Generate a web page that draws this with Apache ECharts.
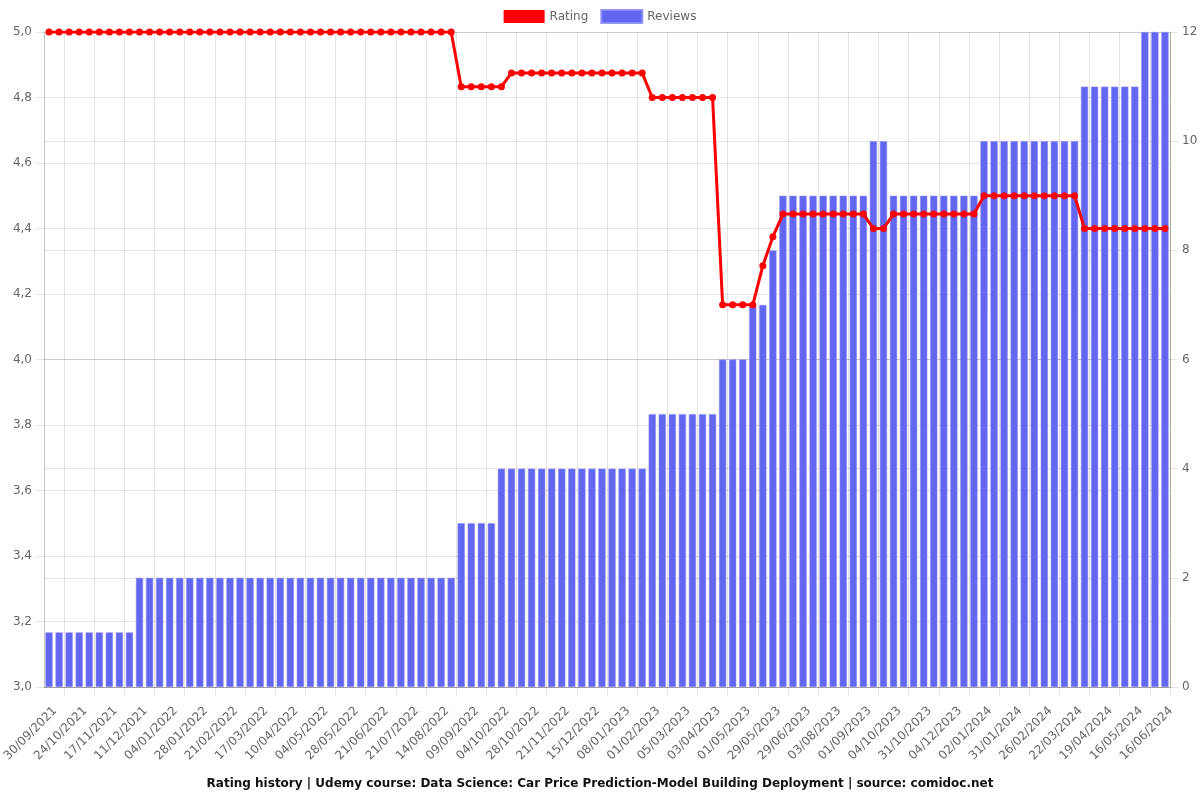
<!DOCTYPE html>
<html>
<head>
<meta charset="utf-8">
<script src="https://cdn.jsdelivr.net/npm/echarts@6/dist/echarts.min.js"></script>
<style>
html,body{margin:0;padding:0;background:#fff;}
#chart{width:1200px;height:800px;}
</style>
</head>
<body>
<div id="chart"></div>
<script>
const categories = [
  "30/09/2021","08/10/2021","16/10/2021","24/10/2021","01/11/2021","09/11/2021","17/11/2021","25/11/2021","03/12/2021","11/12/2021",
  "19/12/2021","27/12/2021","04/01/2022","12/01/2022","20/01/2022","28/01/2022","05/02/2022","13/02/2022","21/02/2022","01/03/2022",
  "09/03/2022","17/03/2022","25/03/2022","02/04/2022","10/04/2022","18/04/2022","26/04/2022","04/05/2022","12/05/2022","20/05/2022",
  "28/05/2022","05/06/2022","13/06/2022","21/06/2022","01/07/2022","11/07/2022","21/07/2022","29/07/2022","06/08/2022","14/08/2022",
  "23/08/2022","01/09/2022","09/09/2022","17/09/2022","26/09/2022","04/10/2022","12/10/2022","20/10/2022","28/10/2022","05/11/2022",
  "13/11/2022","21/11/2022","29/11/2022","07/12/2022","15/12/2022","23/12/2022","31/12/2022","08/01/2023","16/01/2023","24/01/2023",
  "01/02/2023","12/02/2023","22/02/2023","05/03/2023","15/03/2023","25/03/2023","03/04/2023","12/04/2023","21/04/2023","01/05/2023",
  "10/05/2023","19/05/2023","29/05/2023","08/06/2023","19/06/2023","29/06/2023","10/07/2023","22/07/2023","03/08/2023","12/08/2023",
  "22/08/2023","01/09/2023","12/09/2023","23/09/2023","04/10/2023","13/10/2023","22/10/2023","31/10/2023","11/11/2023","22/11/2023",
  "04/12/2023","13/12/2023","23/12/2023","02/01/2024","11/01/2024","21/01/2024","31/01/2024","08/02/2024","17/02/2024","26/02/2024",
  "04/03/2024","13/03/2024","22/03/2024","31/03/2024","10/04/2024","19/04/2024","28/04/2024","07/05/2024","16/05/2024","26/05/2024",
  "05/06/2024","16/06/2024"
];

const reviews = [
  1,1,1,1,1,1,1,1,1,
  2,2,2,2,2,2,2,2,2,2,2,2,2,2,2,2,2,2,2,2,2,2,2,2,2,2,2,2,2,2,2,2,
  3,3,3,3,
  4,4,4,4,4,4,4,4,4,4,4,4,4,4,4,
  5,5,5,5,5,5,5,
  6,6,6,
  7,7,
  8,
  9,9,9,9,9,9,9,9,9,
  10,10,
  9,9,9,9,9,9,9,9,9,
  10,10,10,10,10,10,10,10,10,10,
  11,11,11,11,11,11,
  12,12,12
];

const ratings = [
  5,5,5,5,5,5,5,5,5,5,5,5,5,5,5,5,5,5,5,5,5,5,5,5,5,5,5,5,5,5,5,5,5,5,5,5,5,5,5,5,5,
  4.833,4.833,4.833,4.833,4.833,
  4.875,4.875,4.875,4.875,4.875,4.875,4.875,4.875,4.875,4.875,4.875,4.875,4.875,4.875,
  4.8,4.8,4.8,4.8,4.8,4.8,4.8,
  4.167,4.167,4.167,4.167,
  4.286,
  4.375,
  4.444,4.444,4.444,4.444,4.444,4.444,4.444,4.444,4.444,
  4.4,4.4,
  4.444,4.444,4.444,4.444,4.444,4.444,4.444,4.444,4.444,
  4.5,4.5,4.5,4.5,4.5,4.5,4.5,4.5,4.5,4.5,
  4.4,4.4,4.4,4.4,4.4,4.4,4.4,4.4,4.4
];

const leftTicks = { min: 3, max: 5, interval: 0.2 };
const rightTicks = { min: 0, max: 12, interval: 2 };
const titleText = "Rating history | Udemy course: Data Science: Car Price Prediction-Model Building Deployment | source: comidoc.net";

const gridColor = 'rgba(0,0,0,0.1)';
const axisColor = 'rgba(0,0,0,0.22)';
const FONT = 'DejaVu Sans';

const chart = echarts.init(document.getElementById('chart'), null, { renderer: 'canvas' });
const option = {
  animation: false,
  backgroundColor: '#fff',
  textStyle: { fontFamily: FONT },
  title: {
    text: titleText,
    left: 'center',
    top: 773,
    textStyle: { fontFamily: FONT, fontSize: 12, fontWeight: 'bold', color: '#111' }
  },
  legend: {
    top: 4,
    left: 'center',
    icon: 'rect',
    itemWidth: 41,
    itemHeight: 13,
    itemGap: 12,
    textStyle: { fontFamily: FONT, fontSize: 12, color: '#666' },
    data: ['Rating', 'Reviews']
  },
  grid: { left: 44, right: 30, top: 32, bottom: 113, containLabel: false, outerBoundsMode: 'none' },
  xAxis: {
    type: 'category',
    data: categories,
    boundaryGap: true,
    axisLine: { show: true, lineStyle: { color: axisColor } },
    axisTick: { show: true, length: 8, interval: function (i) { return i % 3 === 2; }, lineStyle: { color: gridColor } },
    splitLine: { show: true, interval: function (i) { return i % 3 === 2; }, lineStyle: { color: gridColor } },
    axisLabel: {
      interval: 2, rotate: 45, fontFamily: FONT, fontSize: 12, color: '#666',
      margin: 16, verticalAlign: 'top', lineHeight: 17
    }
  },
  yAxis: [
    {
      type: 'value',
      position: 'left',
      min: leftTicks.min, max: leftTicks.max, interval: leftTicks.interval,
      axisLine: { show: true, lineStyle: { color: axisColor } },
      axisTick: { show: true, length: 8, lineStyle: { color: gridColor } },
      splitLine: { show: true, lineStyle: { color: gridColor } },
      axisLabel: {
        fontFamily: FONT, fontSize: 12, color: '#666', margin: 12,
        formatter: function (v) { return v.toFixed(1).replace('.', ','); }
      }
    },
    {
      type: 'value',
      position: 'right',
      min: rightTicks.min, max: rightTicks.max, interval: rightTicks.interval,
      axisLine: { show: true, lineStyle: { color: axisColor } },
      axisTick: { show: true, length: 8, lineStyle: { color: gridColor } },
      splitLine: { show: true, lineStyle: { color: gridColor } },
      axisLabel: { fontFamily: FONT, fontSize: 12, color: '#666', margin: 12 }
    }
  ],
  series: [
    {
      name: 'Rating',
      type: 'line',
      data: ratings,
      yAxisIndex: 0,
      z: 5,
      color: '#ff0000',
      symbol: 'circle',
      symbolSize: 7,
      showSymbol: true,
      showAllSymbol: true,
      lineStyle: { width: 3, color: '#ff0000' },
      itemStyle: { color: '#ff0000' }
    },
    {
      name: 'Reviews',
      type: 'bar',
      data: reviews,
      yAxisIndex: 1,
      z: 2,
      color: '#6366f1',
      barWidth: '72%',
      itemStyle: { color: '#6366f1', borderColor: 'rgba(140,142,245,0.9)', borderWidth: 0.6 }
    }
  ]
};
chart.setOption(option);
</script>
</body>
</html>
